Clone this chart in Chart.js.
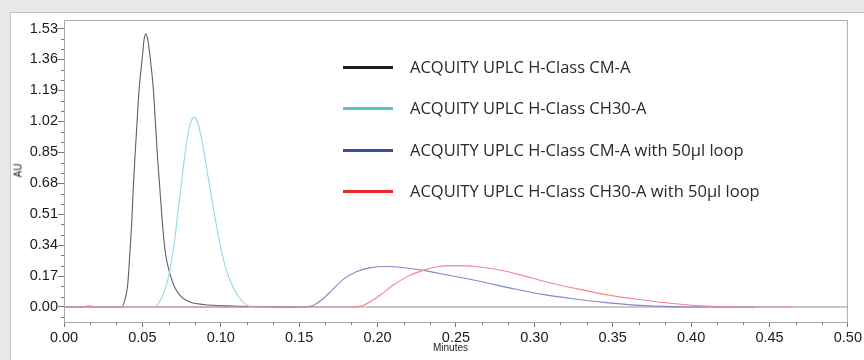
<!DOCTYPE html>
<html>
<head>
<meta charset="utf-8">
<script src="https://cdn.jsdelivr.net/npm/chart.js@4"></script>
<style>
  html, body { margin: 0; padding: 0; }
  body { width: 864px; height: 360px; background: #e7e8ea; position: relative; overflow: hidden; }
  #panel { position: absolute; left: 10px; top: 12px; width: 860px; height: 360px; background: #fff; border-left: 1px solid #c3c3c3; border-top: 1px solid #c3c3c3; }
  #wrap { position: absolute; left: 0; top: 0; width: 864px; height: 360px; }
  .axt { position: absolute; font-family: "Liberation Sans", Arial, sans-serif; font-size: 10px; color: #222; }
  #ytitle { left: 11px; top: 165px; transform: rotate(-90deg); }
  #xtitle { left: 433px; top: 342px; }
  #legend { position: absolute; left: 343px; top: 55px; font-family: "Open Sans", sans-serif; font-size: 16.5px; color: #2a2a2a; }
  .row { position: absolute; left: 0; white-space: nowrap; height: 24px; }
  .sw { position: absolute; left: 0; top: 11px; width: 50px; height: 3px; }
  .lb { position: absolute; left: 67px; top: 0; line-height: 24px; }
</style>
</head>
<body>
<div id="panel"></div>
<div id="wrap"><canvas id="chart" width="864" height="360"></canvas></div>
<div class="axt" id="ytitle">AU</div>
<div class="axt" id="xtitle">Minutes</div>
<div id="legend"></div>
<script>
// labels
const seriesNames = [
  "ACQUITY UPLC H-Class CM-A",
  "ACQUITY UPLC H-Class CH30-A",
  "ACQUITY UPLC H-Class CM-A with 50µl loop",
  "ACQUITY UPLC H-Class CH30-A with 50µl loop"
];
const yTicks = [0.00, 0.17, 0.34, 0.51, 0.68, 0.85, 1.02, 1.19, 1.36, 1.53];
const xTicks = [0.00, 0.05, 0.10, 0.15, 0.20, 0.25, 0.30, 0.35, 0.40, 0.45, 0.50];

// (minutes, AU)
const cmTime = [0, 0.020, 0.0368, 0.0384, 0.0406, 0.0418, 0.0431, 0.0441, 0.0452, 0.0465, 0.0478, 0.0499, 0.0511, 0.0522, 0.0534, 0.0550, 0.0571, 0.0584, 0.0597, 0.0608, 0.0625, 0.0643, 0.0660, 0.0675, 0.0707, 0.0750, 0.0803, 0.0887, 0.1076, 0.130, 0.150];
const cmAU   = [0, 0, 0, 0.027, 0.119, 0.265, 0.449, 0.633, 0.816, 1.000, 1.184, 1.368, 1.470, 1.501, 1.470, 1.368, 1.184, 1.000, 0.816, 0.690, 0.490, 0.320, 0.235, 0.185, 0.107, 0.054, 0.027, 0.014, 0.005, 0.002, 0];

const chTime = [0, 0.056, 0.0580, 0.0601, 0.0643, 0.0675, 0.0703, 0.0728, 0.0754, 0.0781, 0.0805, 0.0830, 0.0856, 0.0883, 0.0919, 0.0955, 0.0994, 0.1036, 0.1089, 0.1142, 0.1206, 0.150];
const chAU   = [0, 0, 0.002, 0.018, 0.091, 0.201, 0.348, 0.532, 0.716, 0.900, 1.005, 1.043, 1.005, 0.900, 0.716, 0.532, 0.348, 0.201, 0.091, 0.027, 0, 0];

const cmLoopTime = [0.130, 0.152, 0.1588, 0.1652, 0.1716, 0.1779, 0.1864, 0.1949, 0.2055, 0.2183, 0.2289, 0.2438, 0.2650, 0.2862, 0.3053, 0.3248, 0.3456, 0.3669, 0.388, 0.410, 0.440];
const cmLoopAU   = [0, 0, 0.008, 0.045, 0.098, 0.150, 0.194, 0.215, 0.222, 0.214, 0.201, 0.177, 0.141, 0.101, 0.069, 0.045, 0.024, 0.009, 0.002, 0, 0];

const chLoopTime = [0, 0.010, 0.016, 0.022, 0.1832, 0.1906, 0.2013, 0.2098, 0.2183, 0.2289, 0.2395, 0.2501, 0.2650, 0.2820, 0.2989, 0.3159, 0.3248, 0.3456, 0.3669, 0.388, 0.4093, 0.4306, 0.465];
const chLoopAU   = [0, 0, 0.006, 0, 0, 0.008, 0.063, 0.119, 0.164, 0.201, 0.222, 0.227, 0.220, 0.196, 0.158, 0.121, 0.104, 0.068, 0.041, 0.019, 0.005, 0, 0];

const lineColors = ["#5f5f5f", "#93d8e6", "#8886cc", "#f4868f"];
const legendColors = ["#1e1e1e", "#57c5cf", "#3b4ea0", "#e8282d"];

function pts(xs, ys) {
  return xs.map((x, i) => ({ x: x, y: ys[i] }));
}

const legendEl = document.getElementById("legend");
seriesNames.forEach(function (name, i) {
  const row = document.createElement("div");
  row.className = "row";
  row.style.top = (i * 41.3) + "px";
  row.innerHTML = '<div class="sw" style="background:' + legendColors[i] + '"></div><div class="lb"></div>';
  row.querySelector(".lb").textContent = name;
  legendEl.appendChild(row);
});

// minor ticks, zero line and box
const frame = {
  id: "frame",
  beforeDatasetsDraw(chart) {
    const ctx = chart.ctx, a = chart.chartArea, y = chart.scales.y;
    const y0 = y.getPixelForValue(0);
    ctx.save();
    ctx.strokeStyle = "#c9c9c9";
    ctx.lineWidth = 2;
    ctx.beginPath();
    ctx.moveTo(a.left, y0);
    ctx.lineTo(a.right, y0);
    ctx.stroke();
    ctx.restore();
  },
  afterDraw(chart) {
    const ctx = chart.ctx, a = chart.chartArea, x = chart.scales.x, y = chart.scales.y;
    ctx.save();
    ctx.strokeStyle = "#a9a9a9";
    ctx.lineWidth = 1;
    ctx.strokeRect(a.left + 0.5, a.top + 0.5, a.right - a.left - 1, a.bottom - a.top);
    ctx.strokeStyle = "#777";
    ctx.beginPath();
    for (let i = 0; i < xTicks.length - 1; i++) {
      for (let k = 1; k < 3; k++) {
        const px = Math.round(x.getPixelForValue(xTicks[i] + (xTicks[i + 1] - xTicks[i]) * k / 3)) + 0.5;
        ctx.moveTo(px, a.bottom);
        ctx.lineTo(px, a.bottom + 3);
      }
    }
    const yAll = [-0.17].concat(yTicks).concat([1.70]);
    for (let i = 0; i < yAll.length - 1; i++) {
      for (let k = 1; k < 3; k++) {
        const v = yAll[i] + (yAll[i + 1] - yAll[i]) * k / 3;
        if (v < y.min || v > y.max) continue;
        const py = Math.round(y.getPixelForValue(v)) + 0.5;
        ctx.moveTo(a.left, py);
        ctx.lineTo(a.left - 3, py);
      }
    }
    ctx.stroke();
    ctx.restore();
  }
};

const ctx = document.getElementById("chart").getContext("2d");
new Chart(ctx, {
  type: "line",
  data: {
    datasets: [
      { label: seriesNames[3], data: pts(chLoopTime, chLoopAU), borderColor: lineColors[3] },
      { label: seriesNames[2], data: pts(cmLoopTime, cmLoopAU), borderColor: lineColors[2] },
      { label: seriesNames[1], data: pts(chTime, chAU), borderColor: lineColors[1] },
      { label: seriesNames[0], data: pts(cmTime, cmAU), borderColor: lineColors[0] }
    ].map(d => Object.assign(d, { borderWidth: 1.1, pointRadius: 0, fill: false, cubicInterpolationMode: "monotone" }))
  },
  options: {
    responsive: false,
    animation: false,
    events: [],
    layout: { padding: { left: 0, top: 20, right: 14, bottom: 0 } },
    plugins: { legend: { display: false }, tooltip: { enabled: false } },
    scales: {
      x: {
        type: "linear",
        min: 0, max: 0.5,
        afterFit(s) { s.height = 38; },
        afterBuildTicks(s) { s.ticks = xTicks.map(v => ({ value: v })); },
        grid: { drawOnChartArea: false, drawTicks: true, tickLength: 5, color: "#777" },
        border: { display: false },
        ticks: { color: "#1a1a1a", padding: 2, maxRotation: 0, font: { family: "Liberation Sans", size: 14.5 }, callback: v => v.toFixed(2) }
      },
      y: {
        type: "linear",
        min: -0.0826, max: 1.577,
        afterFit(s) { s.width = 64; },
        afterBuildTicks(s) { s.ticks = yTicks.map(v => ({ value: v })); },
        grid: { drawOnChartArea: false, drawTicks: true, tickLength: 6, color: "#777" },
        border: { display: false },
        ticks: { color: "#1a1a1a", padding: 0, font: { family: "Liberation Sans", size: 14.5 }, callback: v => v.toFixed(2) }
      }
    }
  },
  plugins: [frame]
});
</script>
</body>
</html>
